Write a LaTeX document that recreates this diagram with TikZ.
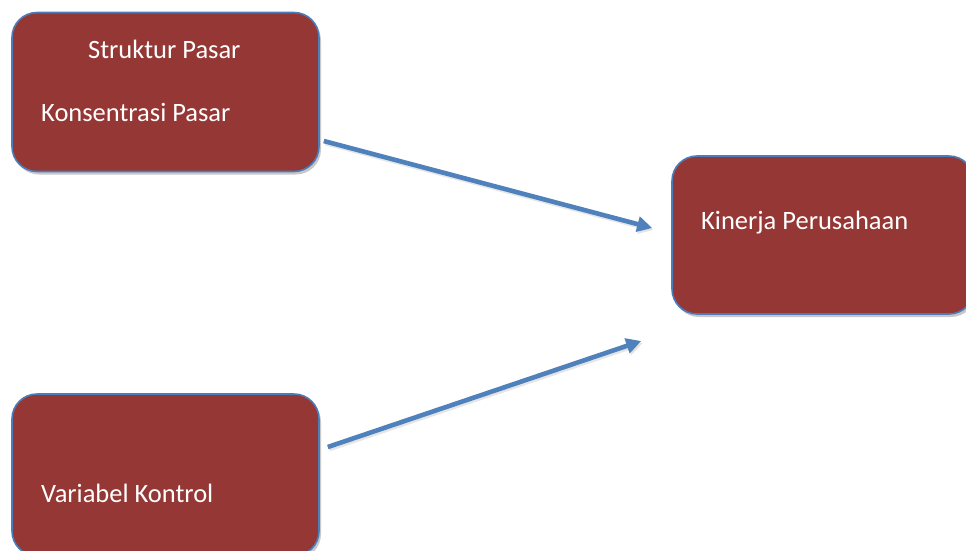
\documentclass[tikz,border=0pt]{standalone}
\usepackage{fontspec}
\setmainfont{Carlito}
\usetikzlibrary{arrows.meta,shadows,calc}
\definecolor{boxfill}{HTML}{953735}
\definecolor{boxline}{HTML}{4A7EBB}
\definecolor{arrowblue}{HTML}{4F81BD}
\tikzset{
  box/.style={rectangle, rounded corners=25pt, fill=boxfill, draw=boxline,
    line width=1.6pt, inner sep=0pt,
    drop shadow={shadow xshift=2pt, shadow yshift=-3pt, opacity=.3, fill=black!70}},
  lbl/.style={anchor=base west, inner sep=0pt, text=white,
    font=\fontsize{26.5}{30}\selectfont},
  link/.style={draw=arrowblue, line width=4.6pt,
    -{Triangle[length=15pt,width=15pt]},
    preaction={draw=black!40, opacity=.25, line width=4.6pt, transform canvas={shift={(1.5pt,-2pt)}}}}
}
\begin{document}
\begin{tikzpicture}[x=1pt,y=-1pt]
  \useasboundingbox (0,0) rectangle (966,550);
  \clip (0,0) rectangle (966,550);
  \fill[white] (0,0) rectangle (966,550);

  % boxes
  \node[box, minimum width=307pt, minimum height=159pt] (pasar) at (165.5,92) {};
  \node[box, minimum width=302pt, minimum height=158pt] (kinerja) at (823,235) {};
  \node[box, minimum width=307pt, minimum height=162pt] (kontrol) at (165.5,475) {};

  % labels
  \node[lbl] (tstruktur) at (88,58) {Struktur Pasar};
  \node[lbl] (tkonsen) at (41,121) {Konsentrasi Pasar};
  \node[lbl] (tkinerja) at (701,229) {Kinerja Perusahaan};
  \node[lbl] (tkontrol) at (41,502) {Variabel Kontrol};

  % arrow end points
  \coordinate (a1s) at ($(pasar.east)+(4,49)$);
  \coordinate (a1e) at ($(kinerja.west)+(-19,-7)$);
  \coordinate (a2s) at ($(kontrol.east)+(8,-28)$);
  \coordinate (a2e) at ($(kinerja.west)+(-30,106)$);

  \draw[link] (a1s) -- (a1e);
  \draw[link] (a2s) -- (a2e);
\end{tikzpicture}
\end{document}
